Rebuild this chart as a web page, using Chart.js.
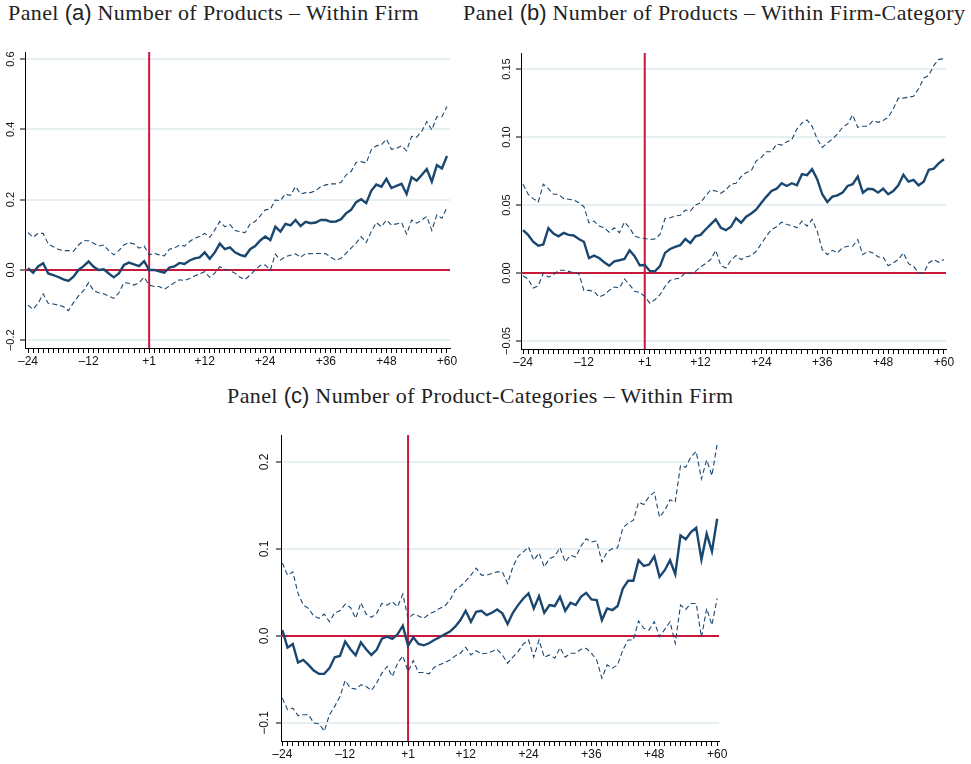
<!DOCTYPE html>
<html>
<head>
<meta charset="utf-8">
<script src="https://cdn.jsdelivr.net/npm/chart.js@4.4.1/dist/chart.umd.min.js"></script>
<style>
    body { margin: 0; background: #fff; width: 971px; height: 764px; position: relative; overflow: hidden; }
    .title { position: absolute; font-family: "Liberation Serif", "DejaVu Serif", serif; font-size: 22px; letter-spacing: 0.4px; line-height: 24px; color: #222; white-space: nowrap; }
    .title .tag { font-family: "Liberation Sans", Arial, sans-serif; letter-spacing: 0; }
    .panel { position: absolute; }
</style>
</head>
<body>
<div class="title" style="left:8px; top:1px;">Panel <span class="tag">(a)</span> Number of Products – Within Firm</div>
<div class="title" style="left:463px; top:1px;">Panel <span class="tag">(b)</span> Number of Products – Within Firm-Category</div>
<div class="title" style="left:227px; top:384px;">Panel <span class="tag">(c)</span> Number of Product-Categories – Within Firm</div>

<div class="panel" style="left:0; top:40px; width:460px; height:330px;"><canvas id="chartA"></canvas></div>
<div class="panel" style="left:480px; top:40px; width:491px; height:330px;"><canvas id="chartB"></canvas></div>
<div class="panel" style="left:240px; top:420px; width:490px; height:344px;"><canvas id="chartC"></canvas></div>

<script>
// event time in months, no month 0
const eventMonths = [];
for (let m = -24; m <= 60; m++) {
    if (m !== 0) eventMonths.push(m);
}
const majorMonths = [-24, -12, 1, 12, 24, 36, 48, 60];

// Panel (a) Number of Products - Within Firm
const prodFirmCoef = [
    0.005, -0.008, 0.010, 0.019, -0.010, -0.015, -0.020, -0.027, -0.031, -0.019, 0.000, 0.011,
    0.024, 0.009, 0.000, 0.002, -0.010, -0.021, -0.010, 0.014, 0.021, 0.016, 0.011, 0.025,
    0.000, 0.000, -0.004, -0.008, 0.007, 0.010, 0.020, 0.017, 0.027, 0.033, 0.036, 0.050,
    0.032, 0.050, 0.075, 0.059, 0.064, 0.050, 0.043, 0.039, 0.059, 0.068, 0.084, 0.095,
    0.085, 0.123, 0.109, 0.131, 0.127, 0.142, 0.125, 0.137, 0.133, 0.135, 0.142, 0.142,
    0.137, 0.138, 0.144, 0.161, 0.171, 0.193, 0.201, 0.190, 0.225, 0.243, 0.237, 0.259,
    0.233, 0.239, 0.245, 0.216, 0.264, 0.254, 0.270, 0.287, 0.251, 0.298, 0.289, 0.324
];
const prodFirmUpper = [
    0.106, 0.093, 0.104, 0.104, 0.074, 0.066, 0.059, 0.055, 0.055, 0.053, 0.071, 0.083,
    0.083, 0.076, 0.068, 0.071, 0.055, 0.043, 0.055, 0.071, 0.078, 0.074, 0.062, 0.068,
    0.043, 0.047, 0.043, 0.040, 0.059, 0.062, 0.071, 0.068, 0.081, 0.090, 0.095, 0.104,
    0.093, 0.114, 0.138, 0.123, 0.129, 0.112, 0.109, 0.106, 0.131, 0.138, 0.154, 0.171,
    0.173, 0.199, 0.197, 0.216, 0.212, 0.237, 0.216, 0.220, 0.220, 0.226, 0.237, 0.242,
    0.245, 0.245, 0.249, 0.270, 0.280, 0.306, 0.308, 0.304, 0.342, 0.353, 0.356, 0.372,
    0.343, 0.346, 0.353, 0.339, 0.380, 0.378, 0.394, 0.422, 0.398, 0.436, 0.436, 0.465
];
const prodFirmLower = [
    -0.100, -0.112, -0.095, -0.068, -0.095, -0.097, -0.100, -0.104, -0.116, -0.093, -0.074, -0.059,
    -0.036, -0.059, -0.065, -0.068, -0.074, -0.081, -0.065, -0.036, -0.038, -0.043, -0.036, -0.021,
    -0.043, -0.047, -0.047, -0.055, -0.046, -0.036, -0.028, -0.030, -0.024, -0.017, -0.011, -0.005,
    -0.021, -0.009, 0.009, 0.002, -0.002, -0.009, -0.021, -0.027, -0.015, 0.000, 0.013, 0.014,
    0.000, 0.045, 0.028, 0.038, 0.042, 0.046, 0.036, 0.047, 0.046, 0.047, 0.047, 0.046,
    0.036, 0.028, 0.033, 0.047, 0.062, 0.076, 0.095, 0.078, 0.109, 0.135, 0.123, 0.142,
    0.128, 0.131, 0.135, 0.102, 0.142, 0.133, 0.142, 0.152, 0.112, 0.157, 0.147, 0.178
];
const prodFirmTicks = [-0.2, 0, 0.2, 0.4, 0.6];
const prodFirmTickLabels = ['\u22120.2', '0.0', '0.2', '0.4', '0.6'];

// Panel (b) Number of Products - Within Firm-Category
const prodCatCoef = [
    0.0315, 0.028, 0.023, 0.020, 0.021, 0.033, 0.029, 0.027, 0.0295, 0.028, 0.0276, 0.025,
    0.023, 0.011, 0.0128, 0.011, 0.0079, 0.0054, 0.0086, 0.0094, 0.0103, 0.0167, 0.0123, 0.0057,
    0.0059, 0.0015, 0.0012, 0.005, 0.0148, 0.0177, 0.0192, 0.0204, 0.025, 0.022, 0.027, 0.028,
    0.032, 0.0357, 0.0394, 0.0333, 0.0315, 0.034, 0.0404, 0.037, 0.0414, 0.0438, 0.0468, 0.0517,
    0.0562, 0.0603, 0.062, 0.066, 0.064, 0.066, 0.0645, 0.0727, 0.072, 0.0764, 0.069, 0.0579,
    0.0522, 0.0562, 0.0571, 0.0591, 0.064, 0.0653, 0.0709, 0.0591, 0.062, 0.0616, 0.0591, 0.062,
    0.0579, 0.0603, 0.0645, 0.0722, 0.0672, 0.0685, 0.0645, 0.0672, 0.0759, 0.0768, 0.0808, 0.0837
];
const prodCatUpper = [
    0.0653, 0.0579, 0.0547, 0.0522, 0.0653, 0.062, 0.0579, 0.0579, 0.0547, 0.0542, 0.0537, 0.0517,
    0.0488, 0.0369, 0.0382, 0.0345, 0.0333, 0.030, 0.0333, 0.0296, 0.0374, 0.0333, 0.0271, 0.0259,
    0.0254, 0.0246, 0.0251, 0.0283, 0.0401, 0.0406, 0.0419, 0.0424, 0.0463, 0.0456, 0.050, 0.0517,
    0.0567, 0.0611, 0.0603, 0.0586, 0.0611, 0.0653, 0.066, 0.0709, 0.0739, 0.0751, 0.0825, 0.085,
    0.0892, 0.0892, 0.0948, 0.0941, 0.0966, 0.098, 0.1059, 0.1103, 0.1126, 0.1079, 0.0985, 0.0924,
    0.0956, 0.0985, 0.1022, 0.1071, 0.1096, 0.1163, 0.1071, 0.1079, 0.1079, 0.1121, 0.1108, 0.1121,
    0.1145, 0.1207, 0.1286, 0.1286, 0.1293, 0.130, 0.1355, 0.1433, 0.1453, 0.1527, 0.1571, 0.1576
];
const prodCatLower = [
    -0.002, -0.0044, -0.0111, -0.0094, 0.000, -0.003, -0.0012, 0.002, 0.002, 0.0012, 0.000, -0.0005,
    -0.0128, -0.0128, -0.0135, -0.0177, -0.016, -0.0128, -0.0103, -0.0111, -0.0044, -0.0086, -0.0135, -0.0143,
    -0.0172, -0.0222, -0.0197, -0.016, -0.0099, -0.0054, -0.0044, -0.0037, 0.0005, -0.0005, 0.0012, 0.0044,
    0.0069, 0.0099, 0.0167, 0.0054, 0.0037, 0.0094, 0.0128, 0.0099, 0.0118, 0.0128, 0.016, 0.0217,
    0.0271, 0.032, 0.034, 0.0374, 0.0357, 0.035, 0.0333, 0.0382, 0.0345, 0.0394, 0.0308, 0.0172,
    0.0135, 0.0167, 0.0148, 0.0185, 0.0197, 0.0197, 0.0246, 0.0135, 0.016, 0.0148, 0.0118, 0.0118,
    0.0054, 0.0074, 0.0099, 0.0148, 0.0069, 0.0049, 0.000, 0.000, 0.0074, 0.0099, 0.0079, 0.0099
];
const prodCatTicks = [-0.05, 0, 0.05, 0.10, 0.15];
const prodCatTickLabels = ['\u22120.05', '0.00', '0.05', '0.10', '0.15'];

// Panel (c) Number of Product-Categories - Within Firm
const catFirmCoef = [
    0.0069, -0.0134, -0.0092, -0.0305, -0.0275, -0.0332, -0.0397, -0.0435, -0.0435, -0.037, -0.0244, -0.0229,
    -0.0065, -0.0153, -0.0221, -0.0073, -0.0153, -0.0218, -0.016, -0.0031, -0.0008, -0.0034, 0.0019, 0.0118,
    -0.0111, -0.0015, -0.0092, -0.0107, -0.0084, -0.0046, -0.0015, 0.0019, 0.005, 0.0107, 0.0183, 0.029,
    0.0164, 0.0279, 0.029, 0.024, 0.0267, 0.0305, 0.026, 0.0137, 0.0267, 0.0355, 0.0431, 0.0489,
    0.0317, 0.0458, 0.0267, 0.0355, 0.0344, 0.045, 0.029, 0.0382, 0.0355, 0.045, 0.0496, 0.042,
    0.0412, 0.0183, 0.0317, 0.0298, 0.0344, 0.0546, 0.0634, 0.0634, 0.087, 0.0805, 0.0821, 0.0916,
    0.0679, 0.0756, 0.087, 0.071, 0.1156, 0.1111, 0.1195, 0.1244, 0.0878, 0.1176, 0.0973, 0.1347
];
const catFirmUpper = [
    0.084, 0.0698, 0.0737, 0.0489, 0.0355, 0.0317, 0.0229, 0.0202, 0.0252, 0.0164, 0.0267, 0.029,
    0.0366, 0.0328, 0.0202, 0.0382, 0.0252, 0.0214, 0.026, 0.0374, 0.0355, 0.0393, 0.0336, 0.0481,
    0.0202, 0.0252, 0.0229, 0.0202, 0.0252, 0.0279, 0.0317, 0.0344, 0.0412, 0.0527, 0.0573, 0.063,
    0.070, 0.078, 0.070, 0.070, 0.0718, 0.0737, 0.0737, 0.0603, 0.0794, 0.0916, 0.0966, 0.1023,
    0.087, 0.0954, 0.0794, 0.0889, 0.0916, 0.1015, 0.0851, 0.0927, 0.0908, 0.1031, 0.1118, 0.108,
    0.1092, 0.0851, 0.0966, 0.1004, 0.1015, 0.1244, 0.1298, 0.1328, 0.1538, 0.1511, 0.1603, 0.1653,
    0.1366, 0.1443, 0.1565, 0.1538, 0.1958, 0.1939, 0.2061, 0.2122, 0.1805, 0.2023, 0.1844, 0.2206
];
const catFirmLower = [
    -0.0714, -0.0847, -0.0828, -0.0916, -0.0905, -0.0905, -0.100, -0.1008, -0.1095, -0.0905, -0.0809, -0.0695,
    -0.0511, -0.0599, -0.0611, -0.0561, -0.058, -0.0626, -0.0542, -0.0427, -0.0351, -0.0466, -0.0313, -0.0229,
    -0.0408, -0.0282, -0.042, -0.042, -0.0435, -0.0359, -0.0332, -0.0305, -0.0275, -0.0229, -0.0198, -0.013,
    -0.0218, -0.0168, -0.0206, -0.0198, -0.0179, -0.0153, -0.0218, -0.0313, -0.0244, -0.0179, -0.0092, -0.0046,
    -0.0244, -0.0046, -0.0244, -0.0218, -0.0256, -0.0134, -0.0244, -0.0198, -0.0198, -0.0153, -0.0141, -0.0198,
    -0.0275, -0.0485, -0.0332, -0.037, -0.0332, -0.016, -0.0046, -0.0046, 0.0172, 0.0088, 0.0069, 0.0164,
    -0.0008, 0.0076, 0.0164, -0.0084, 0.0355, 0.0305, 0.0374, 0.0374, -0.0015, 0.0317, 0.0126, 0.0431
];
const catFirmTicks = [-0.1, 0, 0.1, 0.2];
const catFirmTickLabels = ['\u22120.1', '0.0', '0.1', '0.2'];

const NAVY = '#1a476f';
const RED = '#c8193c';
const FONT_FAMILY = '"Liberation Sans", Arial, Helvetica, sans-serif';

function fmtMonth(m) {
    return m < 0 ? '\u2013' + Math.abs(m) : '+' + m;
}

// red reference lines at event month +1 and at zero
const refLinesPlugin = {
    id: 'refLines',
    beforeDatasetsDraw(chart, args, opts) {
        const { ctx, chartArea, scales: { x, y } } = chart;
        const px = x.getPixelForValue(opts.xValue);
        const py = y.getPixelForValue(opts.yValue);
        ctx.save();
        ctx.strokeStyle = RED;
        ctx.lineWidth = 2;
        ctx.beginPath();
        ctx.moveTo(px, chartArea.top);
        ctx.lineTo(px, chartArea.bottom);
        ctx.moveTo(chartArea.left, py);
        ctx.lineTo(chartArea.right, py);
        ctx.stroke();
        ctx.restore();
    }
};

// vertical (rotated) y tick labels
const yTickTextPlugin = {
    id: 'yTickText',
    afterDraw(chart, args, opts) {
        const { ctx, scales: { y } } = chart;
        ctx.save();
        ctx.font = opts.size + 'px ' + FONT_FAMILY;
        ctx.fillStyle = '#111';
        ctx.textAlign = 'center';
        ctx.textBaseline = 'middle';
        opts.values.forEach((v, i) => {
            ctx.save();
            ctx.translate(y.right - opts.offset, y.getPixelForValue(v));
            ctx.rotate(-Math.PI / 2);
            ctx.fillText(opts.labels[i], 0, 0);
            ctx.restore();
        });
        ctx.restore();
    }
};

function toPoints(values) {
    return values.map((v, i) => ({ x: i, y: v }));
}

function createPanel(canvasId, coef, upper, lower, cfg) {
    const canvas = document.getElementById(canvasId);
    const dashed = {
        borderColor: NAVY,
        borderWidth: 1.1,
        borderDash: [5, 3],
        pointRadius: 0,
        tension: 0,
        fill: false
    };
    return new Chart(canvas, {
        type: 'line',
        data: {
            datasets: [
                { label: 'Estimate', data: toPoints(coef), borderColor: NAVY, borderWidth: 2.4, pointRadius: 0, tension: 0, fill: false },
                Object.assign({ label: 'Upper 95% CI', data: toPoints(upper) }, dashed),
                Object.assign({ label: 'Lower 95% CI', data: toPoints(lower) }, dashed)
            ]
        },
        options: {
            responsive: true,
            maintainAspectRatio: false,
            animation: false,
            layout: { padding: cfg.padding },
            plugins: {
                legend: { display: false },
                tooltip: { enabled: false },
                refLines: { xValue: eventMonths.indexOf(1), yValue: 0 },
                yTickText: { values: cfg.yTicks, labels: cfg.yLabels, offset: cfg.labelOffset, size: cfg.ySize }
            },
            scales: {
                x: {
                    type: 'linear',
                    min: cfg.xMin,
                    max: cfg.xMax,
                    afterBuildTicks: s => { s.ticks = eventMonths.map((m, i) => ({ value: i })); },
                    afterFit: s => { s.height = cfg.xHeight; },
                    grid: { drawOnChartArea: false, drawTicks: true, tickLength: 5, tickColor: '#000', tickWidth: 1 },
                    border: { display: true, color: '#000', width: 1 },
                    ticks: {
                        autoSkip: false,
                        minRotation: 0,
                        maxRotation: 0,
                        padding: 1,
                        color: '#111',
                        font: { family: FONT_FAMILY, size: 12 },
                        callback: v => {
                            const m = eventMonths[v];
                            return majorMonths.includes(m) ? fmtMonth(m) : '';
                        }
                    }
                },
                y: {
                    type: 'linear',
                    min: cfg.yMin,
                    max: cfg.yMax,
                    afterBuildTicks: s => { s.ticks = cfg.yTicks.map(v => ({ value: v })); },
                    afterFit: s => { s.width = cfg.yWidth; },
                    grid: { color: '#e6f0f3', lineWidth: 2, drawTicks: true, tickLength: 5, tickColor: '#000', tickWidth: 1 },
                    border: { display: true, color: '#000', width: 1 },
                    ticks: { display: false }
                }
            }
        },
        plugins: [refLinesPlugin, yTickTextPlugin]
    });
}

createPanel('chartA', prodFirmCoef, prodFirmUpper, prodFirmLower, {
    padding: { top: 12, right: 10, bottom: 0, left: 0 },
    xMin: -0.6, xMax: 83.6, xHeight: 22,
    yMin: -0.222, yMax: 0.62, yWidth: 25,
    yTicks: prodFirmTicks, yLabels: prodFirmTickLabels, labelOffset: 14, ySize: 11
});

createPanel('chartB', prodCatCoef, prodCatUpper, prodCatLower, {
    padding: { top: 13, right: 25, bottom: 0, left: 0 },
    xMin: -0.4, xMax: 83.4, xHeight: 21,
    yMin: -0.0559, yMax: 0.1618, yWidth: 41,
    yTicks: prodCatTicks, yLabels: prodCatTickLabels, labelOffset: 14, ySize: 11
});

createPanel('chartC', catFirmCoef, catFirmUpper, catFirmLower, {
    padding: { top: 15, right: 11, bottom: 0, left: 0 },
    xMin: -0.25, xMax: 83.35, xHeight: 23,
    yMin: -0.1207, yMax: 0.231, yWidth: 41,
    yTicks: catFirmTicks, yLabels: catFirmTickLabels, labelOffset: 16, ySize: 12
});
</script>
</body>
</html>
